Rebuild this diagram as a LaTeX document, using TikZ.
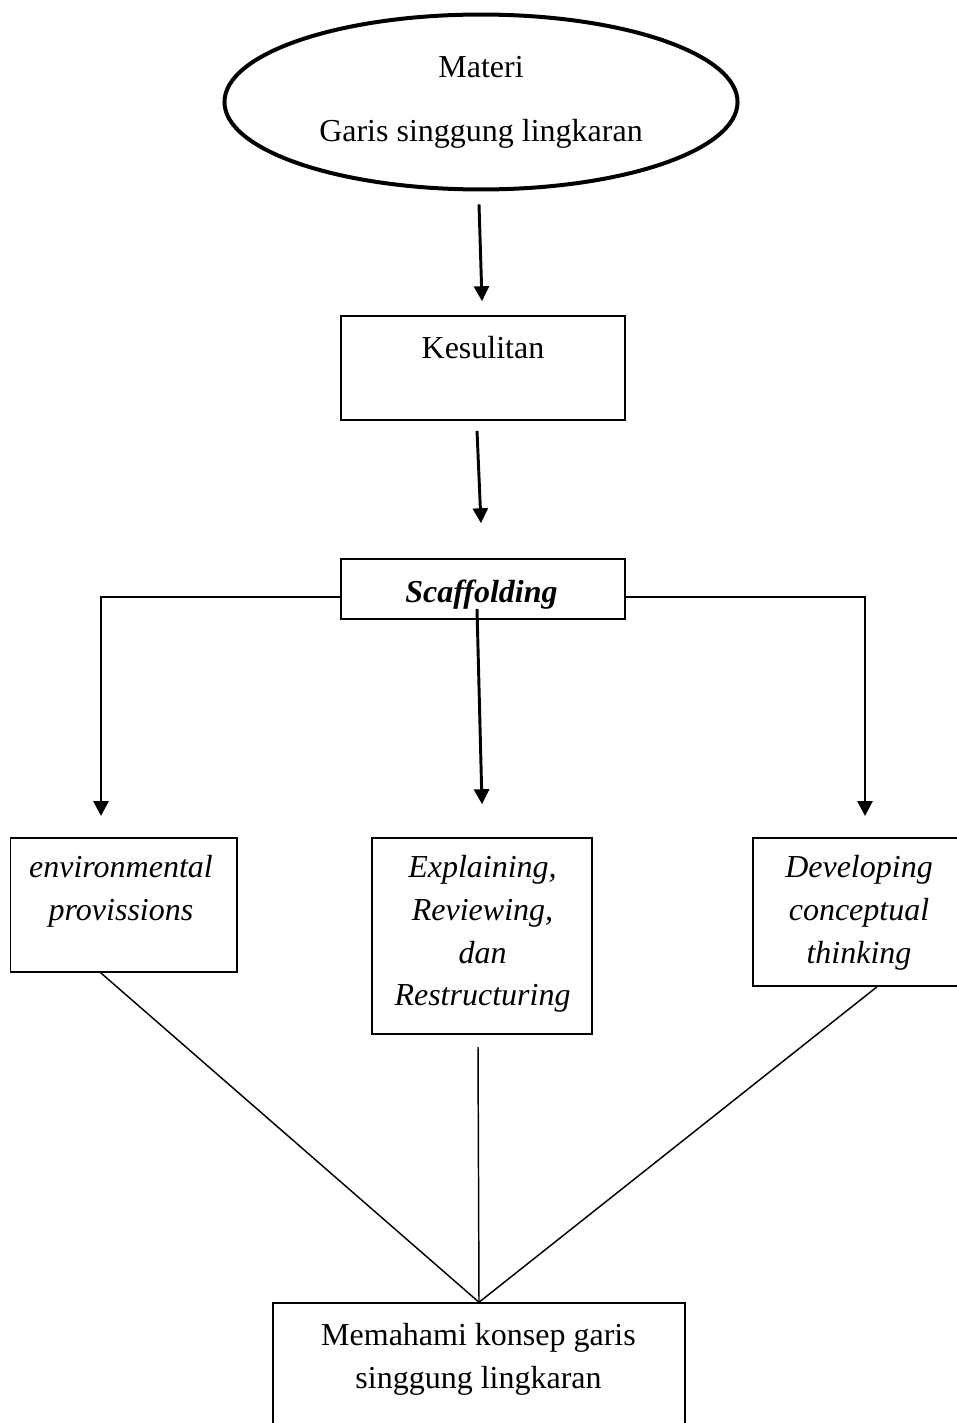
\documentclass[tikz,border=0pt]{standalone}
\usepackage{fontspec}
\setmainfont{Liberation Serif}
\usetikzlibrary{shapes,arrows.meta,positioning}

\begin{document}
\begin{tikzpicture}[x=0.375pt,y=-0.375pt,
    txt/.style={inner sep=0pt,align=center,font=\fontsize{12}{16}\selectfont},
    itxt/.style={txt,font=\fontsize{12}{16}\selectfont\itshape},
    frame/.style={draw,rectangle,line width=0.6pt,inner sep=0pt},
    arr/.style={line width=1.1pt,-{Triangle[width=5.6pt,length=5.6pt]}},
    link/.style={line width=0.55pt}]
    \useasboundingbox (0,0) rectangle (957,1423);
    \node[draw,ellipse,txt,line width=1.5pt,minimum width=192.4pt,minimum height=65.6pt] (materi) at (481,102) {Materi\\[8pt]Garis singgung lingkaran};
    \node[frame,minimum width=106.5pt,minimum height=39pt] (kes) at (483,368) {};
    \node[txt,anchor=north] (kes-txt) at (483,336) {Kesulitan};
    \node[frame,minimum width=106.5pt,minimum height=22.5pt] (scaf) at (483,589) {};
    \node[txt,anchor=north,font=\fontsize{12}{16}\selectfont\bfseries\itshape] (scaf-txt) at (481.5,579) {Scaffolding};
    \node[frame,minimum width=84.9pt,minimum height=50.25pt] (env) at (123.75,905) {};
    \node[itxt,anchor=north] (env-txt) at (121,855) {environmental\\provissions};
    \node[frame,minimum width=82.5pt,minimum height=73.5pt] (expl) at (482,936) {};
    \node[itxt,anchor=north] (expl-txt) at (482.5,855) {Explaining,\\Reviewing,\\dan\\Restructuring};
    \node[frame,minimum width=79.9pt,minimum height=55.5pt] (dev) at (859.5,912) {};
    \node[itxt,anchor=north] (dev-txt) at (859,855) {Developing\\conceptual\\thinking};
    \node[frame,minimum width=154.5pt,minimum height=47.6pt] (goal) at (479,1366.5) {};
    \node[txt,anchor=north] (goal-txt) at (478.5,1323) {Memahami konsep garis\\singgung lingkaran};
    \coordinate (envin) at (101,816);
    \coordinate (devin) at (865,816);
    \draw[arr] ([shift={(-2,13)}]materi.south) -- ([shift={(-1,-14)}]kes.north);
    \draw[arr] ([shift={(-6,10)}]kes.south) -- ([shift={(-2,-35)}]scaf.north);
    \draw[arr] ([shift={(0,8)}]scaf.west) -| (envin);
    \draw[arr] ([shift={(0,8)}]scaf.east) -| (devin);
    \draw[arr] ([shift={(-6,-11)}]scaf.south) -- ([shift={(0,-33)}]expl.north);
    \draw[link] ([shift={(-23,0)}]env.south) -- (goal.north);
    \draw[link] ([shift={(-4,12)}]expl.south) -- (goal.north);
    \draw[link] ([shift={(17.5,0)}]dev.south) -- (goal.north);
\end{tikzpicture}
\end{document}
